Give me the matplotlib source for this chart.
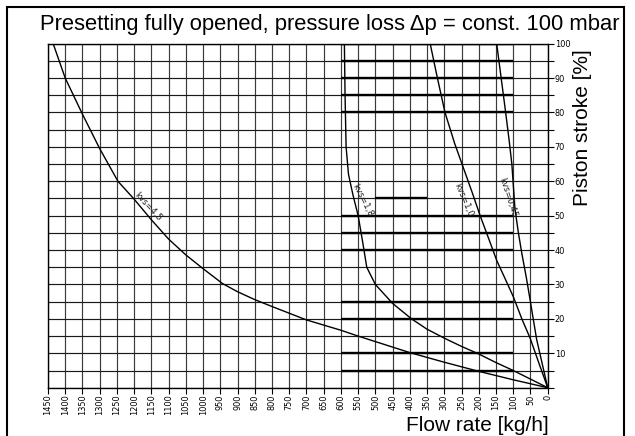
import matplotlib
matplotlib.use("Agg")
import matplotlib.pyplot as plt
from matplotlib.patches import Rectangle

# curve readings (flow rate kg/h, piston stroke %)
kvs45_x = [1435, 1400, 1350, 1300, 1247, 1200, 1150, 1100, 1050, 1000, 944, 900, 850, 800, 700, 600, 544, 500, 400, 300, 200, 100, 0]
kvs45_y = [100, 90, 79.5, 69.5, 60, 54.8, 48.8, 43.2, 38.6, 34.6, 30.3, 27.9, 25.6, 23.6, 19.7, 16.7, 14.8, 13.4, 10.2, 7.4, 4.75, 2.3, 0]

kvs18_x = [590, 588, 585, 578, 565, 550, 538, 525, 500, 450, 395, 350, 300, 250, 200, 150, 100, 50, 0]
kvs18_y = [100, 85, 70, 62, 56, 50, 43, 35, 30, 24.5, 20, 17, 14.4, 12, 9.8, 7.3, 5, 2.5, 0]

kvs10_x = [341, 320, 298, 270, 245, 220, 196, 170, 148, 125, 100, 75, 51, 25, 0]
kvs10_y = [100, 90, 80, 71, 64, 57, 50, 43, 37, 32, 26.5, 20, 14.4, 7, 0]

kvs045_x = [148, 135, 122, 112, 104, 95, 85, 75, 62, 51, 42, 32, 16, 0]
kvs045_y = [100, 90, 80, 72, 65, 52, 45, 39, 32, 25.5, 20, 14, 7, 0]

# curve labels: text, x, y, rotation
labels = [("kvs=4,5", 1159, 52.5, -47),
          ("kvs=1,8", 538, 54.5, -63),
          ("kvs=1,0", 244, 54.5, -67),
          ("kvs=0,45", 116, 55.3, -72)]

# heavy horizontal lines between 100 and 600 kg/h
heavy_y = [5, 10, 20, 25, 40, 45, 50, 80, 85, 90, 95, 100]

x_ticks = list(range(0, 1451, 50))
y_major = list(range(10, 101, 10))
y_minor = list(range(0, 101, 5))

small = ["Liberation Sans Narrow", "DejaVu Sans"]
big = ["Liberation Sans", "DejaVu Sans"]

fig = plt.figure(figsize=(6.35, 4.36), dpi=100)
ax = fig.add_axes([48 / 635, 1 - 387.7 / 436, (547.7 - 48) / 635, (387.7 - 43.7) / 436])

ax.set_xlim(1450, 0)
ax.set_ylim(0, 100)

for xv in x_ticks:
    ax.axvline(xv, color="#3a3a3a", lw=0.85, zorder=1)
for yv in y_minor:
    ax.axhline(yv, color="#1a1a1a", lw=0.85, zorder=1)
for yv in heavy_y:
    ax.plot([600, 100], [yv, yv], color="black", lw=1.7, solid_capstyle="butt", zorder=2)
ax.plot([500, 350], [55, 55], color="black", lw=1.7, solid_capstyle="butt", zorder=2)

for xs, ys in [(kvs45_x, kvs45_y), (kvs18_x, kvs18_y), (kvs10_x, kvs10_y), (kvs045_x, kvs045_y)]:
    ax.plot(xs, ys, color="black", lw=1.0, zorder=3)

for txt, xv, yv, rot in labels:
    ax.text(xv, yv, txt, rotation=rot, ha="center", va="center", fontsize=6.3,
            family=small, color="#222222", rotation_mode="anchor", zorder=4)

ax.set_xticks(x_ticks)
ax.set_xticklabels([str(v) for v in x_ticks], rotation=90, fontsize=5.9, family=small)
ax.yaxis.tick_right()
ax.set_yticks(y_major)
ax.set_yticks(y_minor, minor=True)
ax.set_yticklabels([str(v) for v in y_major], fontsize=5.9, family=small)
ax.tick_params(axis="x", direction="out", length=4, width=0.8, pad=1)
ax.tick_params(axis="y", which="both", direction="out", length=4, width=0.8, pad=1)
for s in ax.spines.values():
    s.set_linewidth(1.0)

fig.text(330 / 635, 1 - 30 / 436, "Presetting fully opened, pressure loss \u0394p = const. 100 mbar",
         ha="center", va="baseline", fontsize=15.8, family=big)
fig.text(583 / 635, 1 - 128 / 436, "Piston stroke [%]", rotation=90, ha="center", va="center",
         fontsize=15, family=big)
fig.text(477 / 635, 1 - 431 / 436, "Flow rate [kg/h]", ha="center", va="baseline",
         fontsize=15, family=big)

fig.patches.append(Rectangle((7 / 635, -0.05), (624 - 7) / 635, 1.05 - 7 / 436,
                             transform=fig.transFigure, fill=False, lw=1.5, color="black"))

fig.savefig("out.png", dpi=100)
